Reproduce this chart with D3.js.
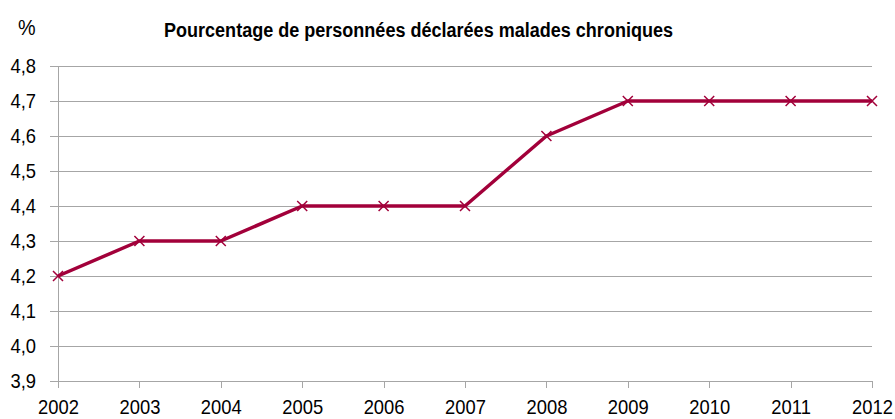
<!DOCTYPE html>
<html>
<head>
<meta charset="utf-8">
<script src="https://cdn.jsdelivr.net/npm/d3@7"></script>
<style>
  body { margin: 0; background: #fff; }
  svg text { font-family: "Liberation Sans", Arial, sans-serif; }
</style>
</head>
<body>
<svg width="895" height="419"></svg>
<script>
// Data
const years = [2002, 2003, 2004, 2005, 2006, 2007, 2008, 2009, 2010, 2011, 2012];
const values = [4.2, 4.3, 4.3, 4.4, 4.4, 4.4, 4.6, 4.7, 4.7, 4.7, 4.7];
const yTicks = [3.9, 4.0, 4.1, 4.2, 4.3, 4.4, 4.5, 4.6, 4.7, 4.8];

const svg = d3.select("svg");
const margin = { left: 58, right: 23, top: 66, bottom: 38 };
const width = 895, height = 419;
const squeeze = 0.92; // narrow look of the original font

const x = d3.scaleLinear()
    .domain([2002, 2012])
    .range([margin.left, width - margin.right]);

const y = d3.scaleLinear()
    .domain([3.9, 4.8])
    .range([height - margin.bottom, margin.top]);

const fmt = d => d.toFixed(1).replace(".", ",");

// Gridlines + y labels
const yAxis = svg.append("g")
    .attr("transform", `translate(${margin.left},0)`)
    .call(d3.axisLeft(y)
        .tickValues(yTicks)
        .tickSize(-(width - margin.left - margin.right))
        .tickFormat(fmt));
yAxis.select(".domain").remove();
yAxis.selectAll(".tick line")
    .attr("x1", -8)
    .attr("stroke", "#a6a6a6")
    .attr("shape-rendering", "crispEdges");
yAxis.selectAll(".tick text")
    .attr("x", -22 / squeeze)
    .attr("transform", `scale(${squeeze},1)`)
    .attr("font-size", 20)
    .attr("fill", "#000");

// y axis line
svg.append("line")
    .attr("x1", margin.left).attr("x2", margin.left)
    .attr("y1", y(4.8)).attr("y2", y(3.9))
    .attr("stroke", "#a6a6a6")
    .attr("shape-rendering", "crispEdges");

// x axis
const xAxis = svg.append("g")
    .attr("transform", `translate(0,${y(3.9)})`)
    .call(d3.axisBottom(x)
        .tickValues(years)
        .tickSize(7)
        .tickPadding(12)
        .tickFormat(d3.format("d")));
xAxis.select(".domain").remove();
xAxis.selectAll(".tick line")
    .attr("stroke", "#a6a6a6")
    .attr("shape-rendering", "crispEdges");
xAxis.selectAll(".tick text")
    .attr("transform", `scale(${squeeze},1)`)
    .attr("font-size", 20)
    .attr("fill", "#000");

// line
const color = "#a2003a";
const data = years.map((yr, i) => ({ yr, v: values[i] }));

svg.append("path")
    .datum(data)
    .attr("fill", "none")
    .attr("stroke", color)
    .attr("stroke-width", 3.5)
    .attr("stroke-linejoin", "round")
    .attr("d", d3.line().x(d => x(d.yr)).y(d => y(d.v)));

// markers (x shape)
const s = 5;
svg.append("g")
    .selectAll("path")
    .data(data)
    .enter().append("path")
    .attr("d", d => {
        const cx = x(d.yr), cy = y(d.v);
        return `M${cx - s},${cy - s}L${cx + s},${cy + s}M${cx - s},${cy + s}L${cx + s},${cy - s}`;
    })
    .attr("stroke", color)
    .attr("stroke-width", 1.5)
    .attr("fill", "none");

// titles
svg.append("text")
    .attr("x", 18).attr("y", 35)
    .attr("font-size", 22)
    .attr("transform", "translate(18,0) scale(0.9,1) translate(-18,0)")
    .text("%");

svg.append("text")
    .attr("x", 164).attr("y", 37)
    .attr("font-size", 20)
    .attr("font-weight", "bold")
    .attr("textLength", 509)
    .attr("lengthAdjust", "spacingAndGlyphs")
    .text("Pourcentage de personnées déclarées malades chroniques");
</script>
</body>
</html>
